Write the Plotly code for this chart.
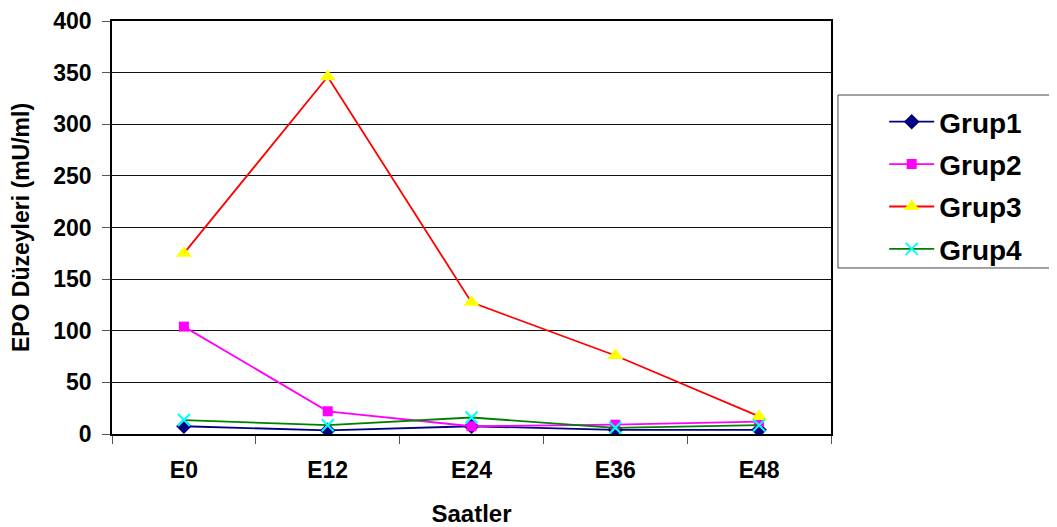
import plotly.graph_objects as go

categories = ["E0", "E12", "E24", "E36", "E48"]
grup1 = [7.5, 3.5, 7.5, 4, 4]
grup2 = [104, 22, 7.5, 9, 12]
grup3 = [175, 346, 127.5, 76, 17]
grup4 = [13.5, 8.5, 16, 6, 8.5]
y_ticks = [0, 50, 100, 150, 200, 250, 300, 350, 400]

FONT = "Liberation Sans, Arial, sans-serif"

fig = go.Figure()
fig.add_trace(go.Scatter(x=categories, y=grup1, name="Grup1", mode="lines+markers", legendgroup="g1",
                         line=dict(color="#000080", width=1.8),
                         marker=dict(symbol="diamond", size=12, color="#000080")))
fig.add_trace(go.Scatter(x=categories, y=grup2, name="Grup2", mode="lines+markers", legendgroup="g2",
                         line=dict(color="#FF00FF", width=1.8),
                         marker=dict(symbol="square", size=10, color="#FF00FF")))
fig.add_trace(go.Scatter(x=categories, y=grup3, name="Grup3", mode="lines+markers", legendgroup="g3",
                         line=dict(color="#FF0000", width=1.8),
                         marker=dict(symbol="triangle-up", size=14, color="#FFFF00")))
fig.add_trace(go.Scatter(x=categories, y=grup4, name="Grup4", mode="lines+markers", legendgroup="g4",
                         line=dict(color="#008000", width=1.8),
                         marker=dict(symbol="x-thin", size=12, color="#00FFFF",
                                     line=dict(color="#00FFFF", width=2))))

fig.update_layout(
    width=1057, height=527,
    margin=dict(l=104, r=234, t=13, b=101, autoexpand=False),
    paper_bgcolor="white", plot_bgcolor="white",
    font=dict(family=FONT, color="black"),
    showlegend=True,
    legend=dict(x=1.074, y=0.816, xanchor="left", yanchor="top",
                borderwidth=0, bgcolor="rgba(0,0,0,0)",
                font=dict(size=28, family=FONT, weight="bold"),
                itemwidth=45,
                traceorder="grouped", tracegroupgap=3),
    xaxis=dict(type="category", categoryorder="array", categoryarray=categories,
               automargin=False,
               tickson="boundaries", ticks="outside", ticklen=8, tickcolor="#555555",
               ticklabelstandoff=14,
               showline=True, linecolor="black", linewidth=2, mirror=True,
               showgrid=False, range=[-0.5, 4.5],
               tickfont=dict(size=23, family=FONT, weight="bold"),
               title=dict(text="Saatler", font=dict(size=24, family=FONT, weight="bold"), standoff=24)),
    yaxis=dict(range=[0, 400], tickvals=y_ticks, ticks="outside", ticklen=8, tickcolor="#555555",
               automargin=False, ticklabelstandoff=6,
               showline=True, linecolor="black", linewidth=1.5, mirror=True,
               showgrid=True, gridcolor="#111111", gridwidth=1, zeroline=False,
               tickfont=dict(size=23, family=FONT, weight="bold"),
               title=dict(text="EPO Düzeyleri (mU/ml)", font=dict(size=23, family=FONT, weight="bold"), standoff=22)),
)
# legend frame
fig.add_shape(type="rect", xref="paper", yref="paper", x0=1.0097, x1=1.3115, y0=0.402, y1=0.8208,
              line=dict(color="#444444", width=1), fillcolor="rgba(0,0,0,0)", layer="below")

fig.write_html("out.html")
